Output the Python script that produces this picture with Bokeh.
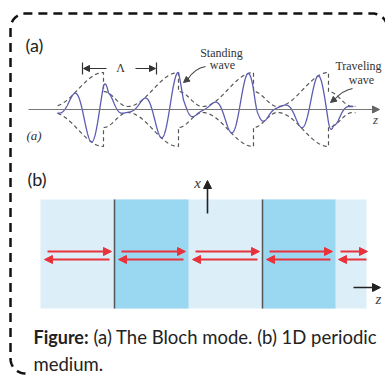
import numpy as np
from bokeh.plotting import figure
from bokeh.models import Range1d, Arrow, NormalHead
from bokeh.core.properties import value
from bokeh.embed import file_html
from bokeh.resources import INLINE

# ---------------- data / parameters ----------------
# Panel (a): Bloch mode sketch (pixel-like coordinates)
axis_y = 109
wave_start, wave_end = 57, 355
cell_origin = 28
interfaces = [103, 178, 253, 328]
Lam = 75
env_jump, env_min, env_max, s_min = 18, 3, 37, 24
osc_period, osc_peak = 34.9, 73
lambda_ticks = [82, 156]

# Panel (b): 1D periodic medium
medium_x = [40, 366]
medium_y = [199, 308]
dark_left = [114, 262]
dark_right = [188, 335]
layer_edges = [40, 114, 188, 262, 335, 366]
arrow_y_right, arrow_y_left = 251, 259

caption_bold = "Figure:"
caption_rest = "(a) The Bloch mode. (b) 1D periodic"
caption_line2 = "medium."

# ---------------- figure ----------------
W, H = 385, 377
p = figure(width=W, height=H, x_range=Range1d(0, W), y_range=Range1d(H, 0),
           output_backend="svg", toolbar_location=None,
           x_axis_location=None, y_axis_location=None, min_border=0)
p.grid.visible = False
p.outline_line_color = None
p.background_fill_color = "white"
p.border_fill_color = "white"

# dashed rounded border
def arc(cx, cy, r, a0, a1, n=20):
    t = np.linspace(a0, a1, n)
    return cx + r * np.cos(t), cy + r * np.sin(t)

bx, by = [], []
for cx, cy, a0, a1 in [(25, 358, np.pi / 2, np.pi), (25, 28, np.pi, 1.5 * np.pi),
                       (372, 28, 1.5 * np.pi, 2 * np.pi)]:
    ax_, ay_ = arc(cx, cy, 15, a0, a1)
    bx += list(ax_); by += list(ay_)
p.line(bx, by, line_color="#111111", line_width=2.5, line_dash="9 6")

# ---------------- panel (a) ----------------
def envelope(s):
    s = np.asarray(s, dtype=float)
    a = env_min + (env_jump - env_min) * (1 + np.cos(np.pi * np.clip(s, 0, s_min) / s_min)) / 2
    b = env_min + (env_max - env_min) * (1 - np.cos(np.pi * (s - s_min) / (Lam - s_min))) / 2
    return np.where(s < s_min, a, b)

bounds = [wave_start] + interfaces + [wave_end]
origins = [cell_origin] + interfaces
zz, AA = [], []
for i in range(len(bounds) - 1):
    z = np.linspace(bounds[i], bounds[i + 1], 120)
    zz.append(z)
    AA.append(envelope(z - origins[i]))
z_env = np.concatenate(zz)
A_env = np.concatenate(AA)
p.line(z_env, axis_y - A_env, line_color="#555555", line_width=1.2, line_dash="4 3")
p.line(z_env, axis_y + A_env, line_color="#555555", line_width=1.2, line_dash="4 3")

# oscillating field (continuous amplitude)
zb, Bb = [], []
for i in range(len(bounds) - 1):
    z = np.linspace(bounds[i], bounds[i + 1], 300)
    s = z - origins[i]
    A = envelope(s)
    if i > 0:
        w = np.clip(s / 5.0, 0, 1)
        A = (1 - w) * env_max + w * A
    zb.append(z); Bb.append(A)
z_b = np.concatenate(zb)
B = np.concatenate(Bb)
mask = z_b <= 353
z_b, B = z_b[mask], B[mask]
p.line(z_b, axis_y - B * np.cos(2 * np.pi * (z_b - osc_peak) / osc_period),
       line_color="#5c5cb2", line_width=1.3)

# z axis of panel (a)
p.add_layout(Arrow(end=NormalHead(size=7, fill_color="#666666", line_color="#666666"),
                   x_start=28, y_start=axis_y, x_end=379, y_end=axis_y,
                   line_color="#777777", line_width=1.2))

# Lambda bracket
for xt in lambda_ticks:
    p.line([xt, xt], [62, 74], line_color="#333333", line_width=1.2)
p.add_layout(Arrow(end=NormalHead(size=6, fill_color="#333333", line_color="#333333"),
                   x_start=106, y_start=68, x_end=83, y_end=68, line_color="#333333", line_width=1.2))
p.add_layout(Arrow(end=NormalHead(size=6, fill_color="#333333", line_color="#333333"),
                   x_start=135, y_start=68, x_end=155, y_end=68, line_color="#333333", line_width=1.2))

serif = value("Liberation Serif")
p.text(x=[120], y=[67], text=["Λ"], text_font=serif, text_font_size="12px",
       text_align="center", text_baseline="middle", text_color="#333333")
p.text(x=[221, 222], y=[52, 64], text=["Standing", "wave"], text_font=serif,
       text_font_size="12px", text_align="center", text_baseline="middle", text_color="#333333")
p.text(x=[358, 361], y=[65, 79], text=["Traveling", "wave"], text_font=serif,
       text_font_size="12px", text_align="center", text_baseline="middle", text_color="#333333")

# curved pointer arrows
p.quadratic(x0=[205], y0=[66], x1=[187], y1=[79], cx=[194], cy=[68], line_color="#444444", line_width=1.1)
p.add_layout(Arrow(end=NormalHead(size=6, fill_color="#444444", line_color="#444444"),
                   x_start=188, y_start=78, x_end=183, y_end=82, line_color="#444444", line_width=1.1))
p.quadratic(x0=[352], y0=[88], x1=[334], y1=[99], cx=[342], cy=[90], line_color="#444444", line_width=1.1)
p.add_layout(Arrow(end=NormalHead(size=6, fill_color="#444444", line_color="#444444"),
                   x_start=335, y_start=98, x_end=330, y_end=102, line_color="#444444", line_width=1.1))

p.text(x=[25], y=[44], text=["(a)"], text_font=value("Lato"), text_font_size="18px",
       text_align="left", text_baseline="middle", text_color="#222222")
p.text(x=[26], y=[135], text=["(a)"], text_font=serif, text_font_style="italic",
       text_font_size="13px", text_align="left", text_baseline="middle", text_color="#333333")
p.text(x=[375], y=[119], text=["z"], text_font=serif, text_font_style="italic",
       text_font_size="13px", text_align="center", text_baseline="middle", text_color="#444444")

# ---------------- panel (b) ----------------
p.text(x=[27], y=[178], text=["(b)"], text_font=value("Lato"), text_font_size="18px",
       text_align="left", text_baseline="middle", text_color="#222222")

p.quad(left=[medium_x[0]], right=[medium_x[1]], bottom=[medium_y[1]], top=[medium_y[0]],
       fill_color="#dceef8", line_color=None)
p.quad(left=dark_left, right=dark_right, bottom=[medium_y[1]] * 2, top=[medium_y[0]] * 2,
       fill_color="#9ad8f2", line_color=None)
for xl in dark_left:
    p.line([xl, xl], medium_y, line_color="#555555", line_width=1.5)

red = "#e8323c"
for i in range(len(layer_edges) - 1):
    a, b = layer_edges[i], layer_edges[i + 1]
    last = i == len(layer_edges) - 2
    p.add_layout(Arrow(end=NormalHead(size=8, fill_color=red, line_color=red),
                       x_start=a + 7 if not last else a + 5, y_start=arrow_y_right,
                       x_end=b - 3 if not last else b + 1, y_end=arrow_y_right,
                       line_color=red, line_width=2))
    p.add_layout(Arrow(end=NormalHead(size=8, fill_color=red, line_color=red),
                       x_start=b - 5 if not last else b, y_start=arrow_y_left,
                       x_end=a + 4 if not last else a + 3, y_end=arrow_y_left,
                       line_color=red, line_width=2))

# x and z arrows
p.add_layout(Arrow(end=NormalHead(size=8, fill_color="#222222", line_color="#222222"),
                   x_start=207, y_start=213, x_end=207, y_end=180, line_color="#222222", line_width=1.6))
p.text(x=[197], y=[182], text=["x"], text_font=serif, text_font_style="italic",
       text_font_size="15px", text_align="center", text_baseline="middle", text_color="#333333")
p.add_layout(Arrow(end=NormalHead(size=8, fill_color="#222222", line_color="#222222"),
                   x_start=353, y_start=287, x_end=380, y_end=287, line_color="#222222", line_width=1.6))
p.text(x=[378], y=[298], text=["z"], text_font=serif, text_font_style="italic",
       text_font_size="15px", text_align="center", text_baseline="middle", text_color="#444444")

# caption
p.text(x=[33], y=[336], text=[caption_bold], text_font=value("Lato"), text_font_style="bold",
       text_font_size="18px", text_align="left", text_baseline="alphabetic", text_color="#222222")
p.text(x=[93], y=[336], text=[caption_rest], text_font=value("Lato"),
       text_font_size="18.5px", text_align="left", text_baseline="alphabetic", text_color="#222222")
p.text(x=[33], y=[363], text=[caption_line2], text_font=value("Lato"),
       text_font_size="18.5px", text_align="left", text_baseline="alphabetic", text_color="#222222")

open("out.html", "w").write(file_html(p, INLINE))
